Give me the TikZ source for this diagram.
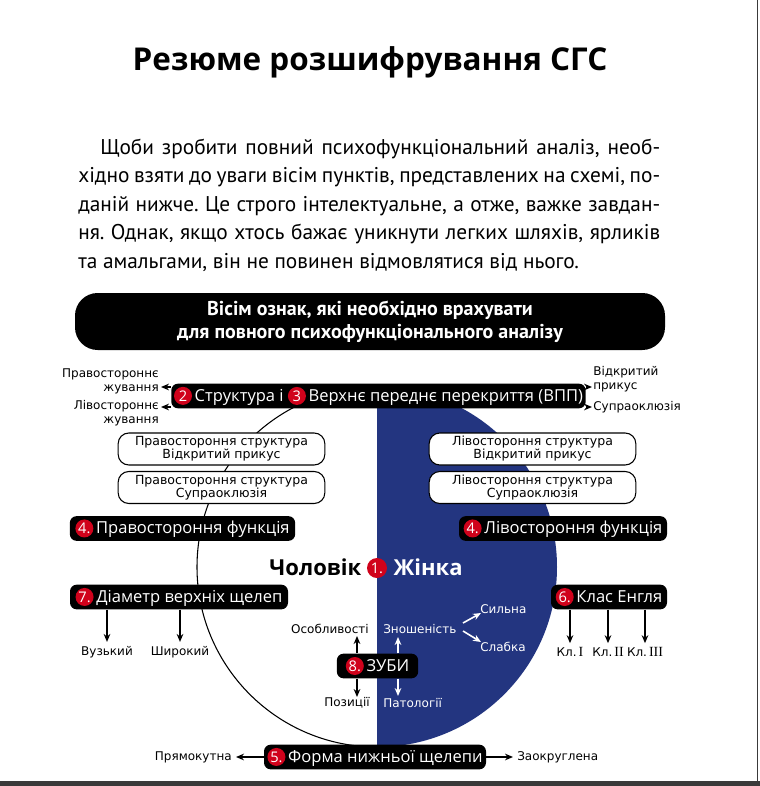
\documentclass[tikz,border=0pt]{standalone}
\usepackage{fontspec}
\setmainfont{PT Sans}
\newfontfamily\headfont{Open Sans}
\newfontfamily\labfont{DejaVu Sans}
\newfontfamily\romfont{Liberation Serif}
\usetikzlibrary{arrows.meta}
\definecolor{sgsblue}{HTML}{233580}
\definecolor{sgsred}{HTML}{D0021B}
\definecolor{sgsframe}{HTML}{3A3A3A}
\frenchspacing

\newcommand{\badge}[1]{\tikz[baseline=(b.base)]\node[circle, fill=sgsred, text=white,
  inner sep=0pt, minimum size=13.5pt, font=\headfont\fontsize{11}{11}\selectfont] (b) {#1};}

\begin{document}
\begin{tikzpicture}[x=0.75pt, y=-0.75pt,
    para/.style={anchor=base west, inner sep=0pt, font=\fontsize{16}{21}\selectfont},
    bar/.style={fill=black, text=white, rounded corners=5pt, minimum height=18.5pt,
                inner xsep=2pt, inner ysep=0pt, font=\headfont\fontsize{12.4}{14}\selectfont},
    box/.style={draw, line width=0.8pt, fill=white, rounded corners=8pt, minimum width=155pt,
                minimum height=24pt, inner sep=0pt, align=center,
                font=\labfont\fontsize{9.4}{9.75}\selectfont},
    lab/.style={inner sep=3pt, font=\labfont\fontsize{9}{10.5}\selectfont},
    wlab/.style={lab, text=white},
    arr/.style={-{Stealth[length=6pt, width=5pt]}, line width=1.5pt},
    warr/.style={arr, white}
  ]
  \useasboundingbox (0,0) rectangle (760,786);
  \fill[white] (0,0) rectangle (760,786);
  \fill[sgsframe] (0,781) rectangle (760,786);
  \draw[sgsframe, line width=1.2pt] (757.5,0) -- (757.5,786);

  \node[anchor=base, font=\headfont\bfseries\fontsize{23.6}{28}\selectfont] (title) at (370,70)
    {Резюме розшифрування СГС};

  \node[para] (p1) at (100,154) {\makebox[420pt][s]{Щоби зробити повний психофункціональний аналіз, необ-}};
  \node[para] (p2) at (78,182) {\makebox[436.5pt][s]{хідно взяти до уваги вісім пунктів, представлених на схемі, по-}};
  \node[para] (p3) at (78,211) {\makebox[436.5pt][s]{даній нижче. Це строго інтелектуальне, а отже, важке завдан-}};
  \node[para] (p4) at (78,239) {\makebox[436.5pt][s]{ня. Однак, якщо хтось бажає уникнути легких шляхів, ярликів}};
  \node[para] (p5) at (78,268) {та амальгами, він не повинен відмовлятися від нього.};

  \node[fill=black, text=white, rounded corners=17pt, minimum width=442.5pt, minimum height=42.75pt,
        align=center, font=\bfseries\fontsize{15}{17.25}\selectfont] (banner) at (370,321.5)
    {Вісім ознак, які необхідно врахувати\\для повного психофункціонального аналізу};

  % halves of the circle
  \begin{scope}
    \clip (377,350) rectangle (600,800);
    \fill[sgsblue] (377,567) circle[radius=180];
  \end{scope}
  \begin{scope}
    \clip (150,350) rectangle (377,800);
    \draw[line width=0.8pt] (377,567) circle[radius=180];
  \end{scope}

  % 2 and 3
  \node[bar, minimum width=302pt] (vpp) at (378.5,396)
    {\badge{2}\,Структура і\ \badge{3}\,Верхнє переднє перекриття (ВПП)};
  \node[lab, align=right, anchor=east] (rchew) at (163,381) {Правостороннє\\жування};
  \node[lab, align=right, anchor=east] (lchew) at (163,413.5) {Лівостороннє\\жування};
  \node[lab, align=left, anchor=west] (openbite) at (589,379) {Відкритий\\прикус};
  \node[lab, anchor=west] (supra) at (589,407) {Супраоклюзія};
  \coordinate (rtip) at (161,387);
  \coordinate (ltip) at (161,407);
  \coordinate (otip) at (592,387);
  \coordinate (stip) at (592,407);
  \draw[arr] (vpp.west |- rtip) -- (rtip);
  \draw[arr] (vpp.west |- ltip) -- (ltip);
  \draw[arr] (vpp.east |- otip) -- (otip);
  \draw[arr] (vpp.east |- stip) -- (stip);

  \node[box] (rs1) at (221.5,449) {Правостороння структура\\Відкритий прикус};
  \node[box] (rs2) at (221.5,487.5) {Правостороння структура\\Супраоклюзія};
  \node[box] (ls1) at (532.5,449) {Лівостороння структура\\Відкритий прикус};
  \node[box] (ls2) at (532.5,487.5) {Лівостороння структура\\Супраоклюзія};

  % 4
  \node[bar, minimum width=169pt] (rfunc) at (182.5,528.5) {\badge{4.}\,Правостороння функція};
  \node[bar, minimum width=156pt] (lfunc) at (563,528.5) {\badge{4.}\,Лівостороння функція};

  % 1
  \node[circle, fill=sgsred, text=white, inner sep=0pt, minimum size=15pt,
        font=\headfont\fontsize{11}{11}\selectfont] (sex) at (377,568) {1.};
  \node[anchor=east, font=\headfont\bfseries\fontsize{16.5}{18}\selectfont] (man) at (366,567) {Чоловік};
  \node[anchor=west, text=white, font=\headfont\bfseries\fontsize{16.5}{18}\selectfont] (woman) at (389,567) {Жінка};

  % 7 and 6
  \node[bar, minimum width=163.5pt] (diam) at (179,597) {\badge{7.}\,Діаметр верхніх щелеп};
  \node[bar, minimum width=87pt] (angle) at (609,597) {\badge{6.}\,Клас Енгля};
  \node[lab] (narrow) at (107,652) {Вузький};
  \node[lab] (wide) at (180,652) {Широкий};
  \node[lab] (cl1) at (570,652) {Кл.\,{\romfont\fontsize{10.5}{10.5}\selectfont I}};
  \node[lab] (cl2) at (608,652) {Кл.\,{\romfont\fontsize{10.5}{10.5}\selectfont II}};
  \node[lab] (cl3) at (645,652) {Кл.\,{\romfont\fontsize{10.5}{10.5}\selectfont III}};
  \draw[arr] (narrow.north |- diam.south) -- (narrow.north);
  \draw[arr] (wide.north |- diam.south) -- (wide.north);
  \draw[arr] (cl1.north |- angle.south) -- (cl1.north);
  \draw[arr] (cl2.north |- angle.south) -- (cl2.north);
  \draw[arr] (cl3.north |- angle.south) -- (cl3.north);

  % 8
  \node[bar, minimum width=61pt] (teeth) at (377.5,666) {\badge{8.}\,ЗУБИ};
  \node[lab, anchor=east] (feat) at (373,629) {Особливості};
  \node[lab] (pos) at (347,703) {Позиції};
  \node[wlab, anchor=west] (wear) at (379,629) {Зношеність};
  \node[wlab, anchor=west] (path) at (379,703) {Патології};
  \node[wlab, anchor=west] (strong) at (476,609) {Сильна};
  \node[wlab, anchor=west] (weak) at (476,647) {Слабка};
  \coordinate (bup) at (357,636);
  \coordinate (bdn) at (357,697);
  \coordinate (wup) at (398,637);
  \coordinate (wdn) at (398,696);
  \draw[arr] (teeth.north -| bup) -- (bup);
  \draw[arr] (teeth.south -| bdn) -- (bdn);
  \draw[warr] (teeth.north -| wup) -- (wup);
  \draw[warr] (teeth.south -| wdn) -- (wdn);
  \coordinate (s0) at (463,623);
  \coordinate (s1) at (481,613);
  \coordinate (w0) at (463,631);
  \coordinate (w1) at (481,642);
  \draw[warr, line width=1.2pt] (s0) -- (s1);
  \draw[warr, line width=1.2pt] (w0) -- (w1);

  % 5
  \node[bar, minimum width=166.5pt] (jaw) at (375,757) {\badge{5.}\,Форма нижньої щелепи};
  \node[lab, anchor=east] (rect) at (236,757) {Прямокутна};
  \node[lab, anchor=west] (round) at (513,757) {Заокруглена};
  \draw[arr] (jaw.west) -- (rect.east);
  \draw[arr] (jaw.east) -- (round.west);
\end{tikzpicture}
\end{document}
